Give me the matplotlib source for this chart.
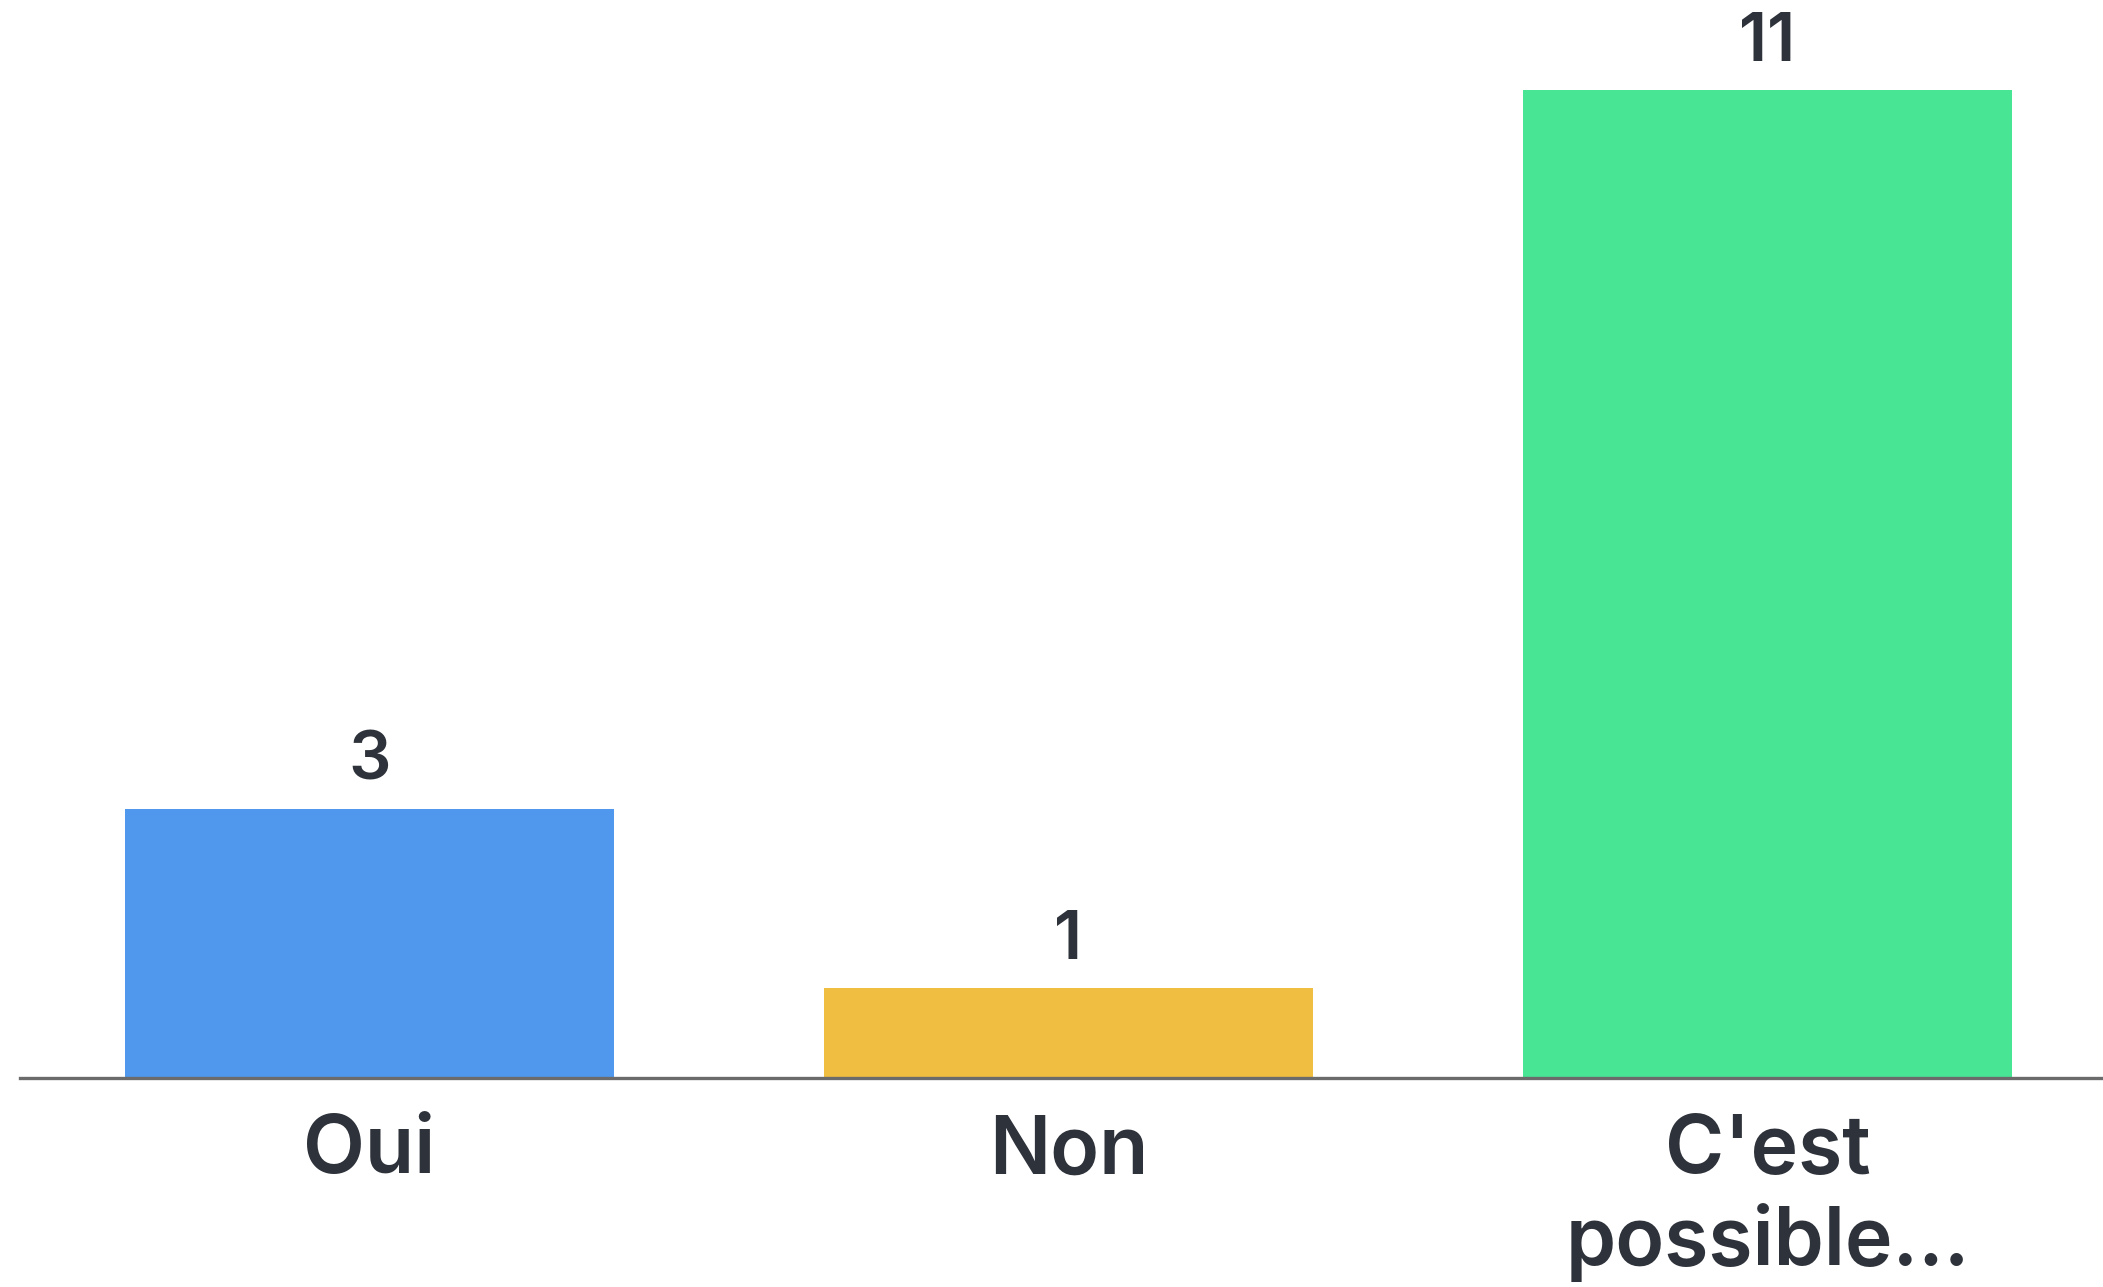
import matplotlib
matplotlib.use("Agg")
import matplotlib.pyplot as plt

categories = ["Oui", "Non", "C'est\npossible..."]
counts = [3, 1, 11]
colors = ["#4F98EE", "#F0BE41", "#48E595"]

plt.rcParams['font.family'] = ['Inter', 'DejaVu Sans']
text_color = "#2E323A"

fig = plt.figure(figsize=(21.03, 12.87), dpi=100)
ax = fig.add_axes([20 / 2103, (1287 - 1078) / 1287, 1 - 20 / 2103, 1078 / 1287])

x = range(len(categories))
bars = ax.bar(x, counts, width=0.7, color=colors, zorder=2)

for b, v in zip(bars, counts):
    ax.annotate(str(v), (b.get_x() + b.get_width() / 2, v),
                xytext=(0, 11), textcoords="offset points",
                ha="center", va="bottom", fontsize=48, fontweight="semibold",
                color=text_color)

ax.set_xlim(-0.5, 2.48)
ax.set_ylim(0, 12)
ax.set_xticks(list(x))
ax.set_xticklabels(categories, fontsize=58, fontweight="semibold", color=text_color,
                   linespacing=1.2, va="top")
ax.tick_params(axis="x", length=0, pad=26)
ax.set_yticks([])
for side in ["top", "right", "left"]:
    ax.spines[side].set_visible(False)
ax.spines["bottom"].set_color("#6B6B6B")
ax.spines["bottom"].set_linewidth(2.4)
ax.spines["bottom"].set_zorder(3)

fig.savefig("out.png", dpi=100, facecolor="white")
